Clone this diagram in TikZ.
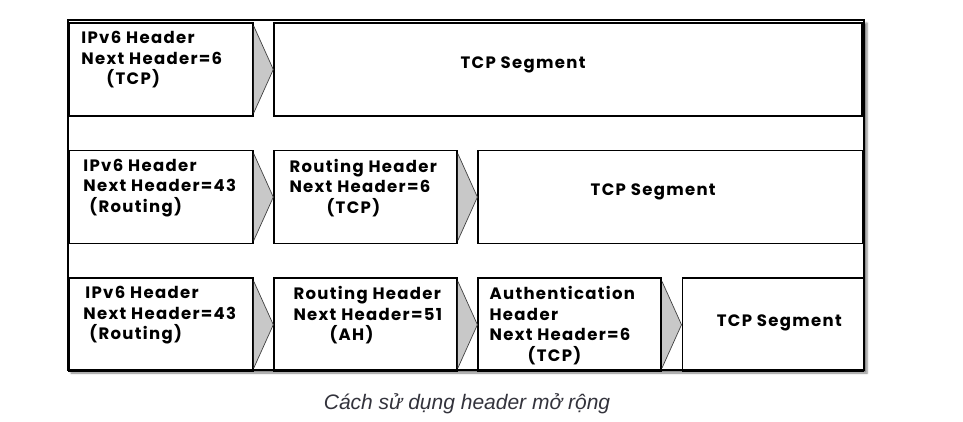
\documentclass[tikz,border=0pt]{standalone}
\usepackage{fontspec}
\setmainfont{Poppins}[LetterSpace=8]
\newfontfamily\capfont{Liberation Sans}
\usetikzlibrary{positioning,shadows.blur}
\definecolor{tipgray}{RGB}{200,200,200}
\definecolor{capgray}{RGB}{51,51,60}

\begin{document}
\begin{tikzpicture}
[
    x = 1pt, y = -1pt,
    node distance = 33pt and 19.5pt,
    boxstyle/.style = {draw,
                       line width=1.6pt,
                       minimum height=93pt,
                       inner sep=0pt},
    txtstyle/.style = {font=\fontsize{16.5}{20.5}\selectfont\bfseries,
                       align=left,
                       anchor=north west,
                       inner sep=0pt},
    segstyle/.style = {font=\fontsize{16.5}{20.5}\selectfont\bfseries},
    tipfill/.style  = {fill=tipgray},
    tipline/.style  = {draw=black!75,
                       line width=0.7pt}
]
\useasboundingbox (0,0) rectangle (963,422);

% outer frame
\node (frame) [draw, line width=1.6pt, fill=white,
               blur shadow={shadow xshift=3pt, shadow yshift=-3pt,
                            shadow blur radius=2pt, shadow opacity=50},
               minimum width=796pt, minimum height=350pt, inner sep=0pt]
      at (466,195) {};

% row 1
\node (r1a) [boxstyle, minimum width=184pt] at (161,69.5) {};
\node (r1b) [boxstyle, minimum width=588pt, right=of r1a] {};

% row 2
\node (r2a) [boxstyle, minimum width=184pt, below=of r1a] {};
\node (r2b) [boxstyle, minimum width=183pt, right=of r2a] {};
\node (r2c) [boxstyle, minimum width=385pt, right=of r2b] {};

% row 3
\node (r3a) [boxstyle, minimum width=184pt, below=of r2a] {};
\node (r3b) [boxstyle, minimum width=183pt, right=of r3a] {};
\node (r3c) [boxstyle, minimum width=183pt, right=of r3b] {};
\node (r3d) [boxstyle, minimum width=181pt, right=of r3c] {};

% pointers
\foreach \a/\b in {r1a/r1b, r2a/r2b, r2b/r2c, r3a/r3b, r3b/r3c, r3c/r3d}
{
  \fill[tipfill] ([yshift=-4pt]\a.north east) -- (\b.west)
                 -- ([yshift=4pt]\a.south east) -- cycle;
  \draw[tipline] ([yshift=-4pt]\a.north east) -- (\b.west)
                 -- ([yshift=4pt]\a.south east);
}

% texts
\node (t1a) [txtstyle] at ([xshift=13pt, yshift=-9pt]r1a.north west) {
IPv6 Header\\Next Header=6\\\hspace*{25pt}(TCP)
};
\node (t1b) [segstyle] at ([xshift=-45pt, yshift=4.5pt]r1b.center) {
TCP Segment
};

\node (t2a) [txtstyle] at ([xshift=15pt, yshift=-9pt]r2a.north west) {
IPv6 Header\\Next Header=43\\\hspace*{6pt}(Routing)
};
\node (t2b) [txtstyle] at ([xshift=16pt, yshift=-9pt]r2b.north west) {
Routing Header\\Next Header=6\\\hspace*{37pt}(TCP)
};
\node (t2c) [segstyle] at ([xshift=-17.5pt, yshift=5pt]r2c.center) {
TCP Segment
};

\node (t3a) [txtstyle] at ([xshift=15pt, yshift=-9pt]r3a.north west) {
\hspace*{2pt}IPv6 Header\\Next Header=43\\\hspace*{6pt}(Routing)
};
\node (t3b) [txtstyle] at ([xshift=20pt, yshift=-9pt]r3b.north west) {
Routing Header\\Next Header=51\\\hspace*{36pt}(AH)
};
\node (t3c) [txtstyle] at ([xshift=12pt, yshift=-9pt]r3c.north west) {
Authentication\\Header\\Next Header=6\\\hspace*{38pt}(TCP)
};
\node (t3d) [segstyle] at ([xshift=6.5pt, yshift=1.5pt]r3d.center) {
TCP Segment
};

% caption
\node (caption) [font=\capfont\itshape\fontsize{21}{24}\selectfont, text=capgray]
      at (467,404) {Cách sử dụng header mở rộng};

\end{tikzpicture}
\end{document}
